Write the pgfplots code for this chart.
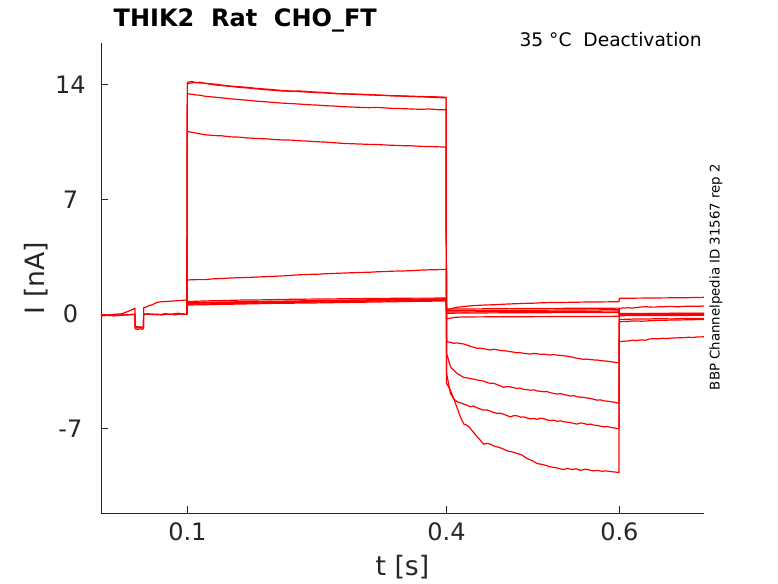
\documentclass[border=0pt]{standalone}
\usepackage{pgfplots}
\pgfplotsset{compat=1.18}
\usepackage{pgfplotstable}
\usepackage{fontspec}
\setmainfont{DejaVu Sans}
\definecolor{axgray}{RGB}{38,38,38}
\definecolor{tracered}{RGB}{255,0,0}

\pgfplotstableread{
t I
0 -0.08
0.005 -0.05
0.01 -0.1
0.015 -0.06
0.02 -0.1
0.025 -0.04
0.03 -0.07
0.035 -0.02
0.0393 0.0
0.0395 -0.9
0.042 -0.95
0.045 -0.9
0.048 -0.93
0.0492 -0.88
0.0494 0.02
0.055 -0.02
0.06 0.0
0.065 -0.05
0.07 -0.02
0.075 0.03
0.08 -0.03
0.085 0.02
0.09 0.05
0.095 -0.02
0.0995 0.0
}\preA

\pgfplotstableread{
t I
0 -0.12
0.005 -0.1
0.01 -0.06
0.015 -0.12
0.02 -0.05
0.025 -0.08
0.03 -0.03
0.035 -0.05
0.0393 -0.02
0.0395 -0.82
0.042 -0.85
0.045 -0.8
0.048 -0.86
0.0492 -0.84
0.0494 -0.02
0.055 0.02
0.06 -0.04
0.065 0.0
0.07 -0.06
0.075 -0.02
0.08 0.0
0.085 -0.05
0.09 -0.02
0.095 0.02
0.0995 -0.03
}\preB

\pgfplotstableread{
t I
0 -0.05
0.01 -0.04
0.02 0.0
0.025 0.02
0.028 0.1
0.031 0.15
0.034 0.22
0.037 0.3
0.0393 0.35
0.0395 -0.75
0.045 -0.8
0.0492 -0.78
0.0494 0.4
0.052 0.42
0.055 0.5
0.06 0.58
0.065 0.72
0.07 0.75
0.08 0.78
0.09 0.82
0.0995 0.86
0.1 0.76
0.12 0.8
0.14 0.82
0.16 0.85
0.18 0.86
0.2 0.88
0.22 0.9
0.24 0.91
0.26 0.92
0.28 0.93
0.3 0.94
0.32 0.95
0.34 0.96
0.36 0.97
0.38 0.97
0.3995 0.98
0.4 0.24
0.405 0.33
0.412 0.41
0.42 0.46
0.43 0.51
0.44 0.54
0.45 0.56
0.46 0.58
0.47 0.61
0.48 0.63
0.49 0.65
0.5 0.66
0.51 0.69
0.52 0.7
0.53 0.7
0.547 0.72
0.56 0.73
0.58 0.74
0.5995 0.75
0.6 0.96
0.62 0.97
0.64 0.98
0.66 0.99
0.68 1.0
0.698 1.02
}\trP

\pgfplotstableread{
t I
0.0995 0.0
0.1 14.15
0.105 14.2
0.11 14.12
0.115 14.16
0.12 14.08
0.13 14.05
0.14 13.98
0.15 13.92
0.16 13.88
0.17 13.84
0.18 13.78
0.19 13.74
0.20 13.7
0.21 13.64
0.22 13.62
0.23 13.58
0.24 13.55
0.25 13.52
0.26 13.5
0.27 13.46
0.28 13.44
0.29 13.42
0.30 13.40
0.31 13.38
0.32 13.36
0.33 13.35
0.34 13.32
0.35 13.3
0.36 13.28
0.37 13.27
0.38 13.24
0.39 13.22
0.3995 13.2
0.4 -4.24
0.4045 -4.65
0.4103 -5.45
0.416 -6.28
0.42 -6.72
0.424 -6.8
0.4277 -6.99
0.4315 -7.25
0.4355 -7.5
0.439 -7.7
0.443 -7.95
0.447 -7.9
0.4508 -7.95
0.4545 -8.05
0.4585 -8.11
0.464 -8.2
0.47 -8.35
0.476 -8.42
0.4817 -8.52
0.487 -8.6
0.493 -8.82
0.499 -8.95
0.505 -9.13
0.512 -9.2
0.52 -9.33
0.528 -9.4
0.5356 -9.5
0.54 -9.42
0.545 -9.5
0.55 -9.45
0.555 -9.55
0.56 -9.48
0.565 -9.52
0.57 -9.58
0.5742 -9.55
0.58 -9.6
0.585 -9.58
0.59 -9.62
0.5973 -9.66
0.5995 -9.68
0.6 -1.69
0.605 -1.66
0.61 -1.65
0.615 -1.6
0.62 -1.62
0.625 -1.58
0.63 -1.6
0.635 -1.52
0.64 -1.5
0.645 -1.52
0.65 -1.48
0.655 -1.5
0.66 -1.47
0.665 -1.46
0.67 -1.45
0.675 -1.44
0.68 -1.42
0.685 -1.43
0.69 -1.4
0.698 -1.39
}\trA

\pgfplotstableread{
t I
0.0995 0.02
0.1 14.05
0.105 14.12
0.11 14.15
0.115 14.1
0.12 14.1
0.13 14.0
0.14 13.95
0.15 13.9
0.16 13.84
0.17 13.8
0.18 13.75
0.19 13.7
0.20 13.66
0.21 13.62
0.22 13.6
0.23 13.62
0.24 13.58
0.25 13.55
0.26 13.52
0.27 13.48
0.28 13.45
0.29 13.44
0.30 13.42
0.31 13.4
0.32 13.38
0.33 13.34
0.34 13.33
0.35 13.32
0.36 13.3
0.37 13.28
0.38 13.27
0.39 13.26
0.3995 13.24
0.4 -3.6
0.4045 -4.85
0.4085 -5.2
0.4123 -5.36
0.416 -5.42
0.42 -5.5
0.424 -5.58
0.4277 -5.66
0.431 -5.62
0.435 -5.72
0.439 -5.8
0.443 -5.87
0.447 -5.85
0.45 -5.92
0.454 -6.0
0.4585 -6.07
0.462 -6.05
0.466 -6.12
0.47 -6.2
0.474 -6.28
0.478 -6.2
0.482 -6.22
0.486 -6.3
0.4894 -6.28
0.493 -6.35
0.497 -6.4
0.501 -6.38
0.505 -6.44
0.508 -6.36
0.512 -6.38
0.516 -6.46
0.520 -6.5
0.524 -6.48
0.528 -6.55
0.532 -6.52
0.5356 -6.58
0.539 -6.6
0.543 -6.62
0.547 -6.68
0.551 -6.72
0.555 -6.65
0.559 -6.68
0.563 -6.75
0.5665 -6.72
0.57 -6.78
0.574 -6.8
0.578 -6.85
0.582 -6.89
0.586 -6.87
0.59 -6.92
0.594 -6.95
0.5973 -6.99
0.5995 -7.0
0.6 -0.47
0.605 -0.46
0.61 -0.45
0.615 -0.42
0.62 -0.42
0.625 -0.44
0.63 -0.43
0.635 -0.41
0.64 -0.4
0.645 -0.39
0.65 -0.38
0.66 -0.37
0.67 -0.36
0.68 -0.35
0.69 -0.34
0.698 -0.33
}\trB

\pgfplotstableread{
t I
0.0995 -0.02
0.1 13.45
0.105 13.42
0.11 13.38
0.115 13.36
0.12 13.3
0.13 13.25
0.14 13.2
0.15 13.14
0.16 13.1
0.17 13.05
0.18 13.0
0.19 12.96
0.20 12.92
0.21 12.88
0.22 12.85
0.23 12.82
0.24 12.78
0.25 12.76
0.26 12.72
0.27 12.7
0.28 12.66
0.29 12.64
0.30 12.62
0.31 12.6
0.32 12.62
0.33 12.58
0.34 12.55
0.35 12.54
0.36 12.52
0.37 12.5
0.38 12.52
0.39 12.48
0.3995 12.47
0.4 -2.4
0.4045 -3.22
0.4085 -3.45
0.4123 -3.63
0.416 -3.75
0.42 -3.87
0.424 -3.9
0.428 -3.95
0.432 -3.98
0.4355 -4.03
0.439 -4.05
0.443 -4.1
0.447 -4.18
0.4508 -4.24
0.454 -4.22
0.458 -4.3
0.462 -4.38
0.4662 -4.48
0.47 -4.42
0.474 -4.45
0.478 -4.5
0.4817 -4.55
0.485 -4.52
0.489 -4.6
0.493 -4.62
0.497 -4.65
0.501 -4.63
0.505 -4.7
0.509 -4.72
0.5125 -4.75
0.516 -4.73
0.52 -4.8
0.524 -4.85
0.528 -4.89
0.532 -4.86
0.536 -4.92
0.54 -4.96
0.5433 -5.01
0.547 -4.98
0.551 -5.05
0.555 -5.08
0.5588 -5.09
0.562 -5.12
0.566 -5.15
0.57 -5.2
0.5742 -5.26
0.578 -5.24
0.582 -5.3
0.586 -5.32
0.59 -5.35
0.594 -5.38
0.5973 -5.42
0.5995 -5.45
0.6 -0.33
0.61 -0.32
0.62 -0.3
0.63 -0.31
0.64 -0.29
0.65 -0.28
0.66 -0.3
0.67 -0.28
0.68 -0.27
0.69 -0.27
0.698 -0.27
}\trC

\pgfplotstableread{
t I
0.0995 0.0
0.1 11.14
0.105 11.1
0.11 11.05
0.115 11.0
0.12 10.95
0.13 10.9
0.14 10.88
0.15 10.82
0.16 10.8
0.17 10.75
0.18 10.72
0.19 10.7
0.20 10.66
0.21 10.63
0.22 10.62
0.23 10.58
0.24 10.56
0.25 10.52
0.26 10.5
0.27 10.46
0.28 10.42
0.29 10.4
0.30 10.38
0.31 10.36
0.32 10.35
0.33 10.32
0.34 10.3
0.35 10.28
0.36 10.27
0.37 10.24
0.38 10.23
0.39 10.21
0.3995 10.19
0.4 -1.4
0.4005 -1.69
0.404 -1.72
0.4084 -1.79
0.412 -1.76
0.416 -1.8
0.42 -1.83
0.424 -1.9
0.428 -1.98
0.432 -2.04
0.4355 -2.1
0.439 -2.08
0.443 -2.12
0.447 -2.16
0.4508 -2.2
0.454 -2.15
0.458 -2.18
0.462 -2.22
0.4662 -2.24
0.47 -2.26
0.474 -2.3
0.478 -2.33
0.4817 -2.37
0.485 -2.35
0.489 -2.4
0.493 -2.42
0.497 -2.45
0.501 -2.4
0.505 -2.43
0.509 -2.46
0.5125 -2.45
0.516 -2.48
0.52 -2.5
0.524 -2.47
0.528 -2.51
0.532 -2.53
0.536 -2.55
0.54 -2.58
0.5433 -2.61
0.547 -2.65
0.551 -2.7
0.555 -2.74
0.5588 -2.77
0.562 -2.75
0.566 -2.78
0.57 -2.8
0.5742 -2.81
0.578 -2.84
0.582 -2.86
0.586 -2.88
0.5896 -2.91
0.594 -2.94
0.5973 -2.97
0.5995 -2.98
0.6 0.35
0.605 0.37
0.61 0.38
0.615 0.36
0.62 0.4
0.625 0.43
0.63 0.45
0.635 0.43
0.64 0.42
0.645 0.44
0.65 0.44
0.655 0.46
0.66 0.47
0.665 0.45
0.67 0.45
0.675 0.47
0.68 0.48
0.69 0.47
0.698 0.49
}\trD

\pgfplotstableread{
t I
0.0995 -0.03
0.1 2.08
0.11 2.1
0.12 2.1
0.13 2.15
0.14 2.17
0.15 2.2
0.16 2.22
0.17 2.23
0.18 2.26
0.19 2.28
0.20 2.3
0.21 2.33
0.22 2.36
0.23 2.4
0.24 2.42
0.25 2.43
0.26 2.46
0.27 2.48
0.28 2.5
0.29 2.52
0.30 2.54
0.31 2.55
0.32 2.58
0.33 2.6
0.34 2.62
0.35 2.63
0.36 2.65
0.37 2.68
0.38 2.7
0.39 2.71
0.3995 2.73
0.4 -0.3
0.405 -0.25
0.41 -0.2
0.42 -0.18
0.45 -0.17
0.5 -0.16
0.55 -0.15
0.5995 -0.14
0.6 0.02
0.65 0.03
0.698 0.04
}\trE

\pgfplotstableread{
t I
0.0995 0.0
0.1 0.6
0.15 0.64
0.2 0.7
0.25 0.73
0.3 0.78
0.35 0.81
0.3995 0.85
0.4 0.3
0.45 0.32
0.5 0.34
0.55 0.35
0.5995 0.36
0.6 0.0
0.65 0.01
0.698 0.02
}\trFa

\pgfplotstableread{
t I
0.0995 -0.02
0.1 0.65
0.15 0.7
0.2 0.74
0.25 0.78
0.3 0.82
0.35 0.86
0.3995 0.9
0.4 0.2
0.45 0.22
0.5 0.23
0.55 0.25
0.5995 0.26
0.6 -0.05
0.65 -0.04
0.698 -0.04
}\trFb

\pgfplotstableread{
t I
0.0995 0.01
0.1 0.55
0.15 0.6
0.2 0.65
0.25 0.68
0.3 0.72
0.35 0.76
0.3995 0.8
0.4 0.05
0.45 0.07
0.5 0.08
0.55 0.09
0.5995 0.1
0.6 0.03
0.65 0.04
0.698 0.05
}\trFc

\pgfplotstableread{
t I
0.0995 0.0
0.1 0.7
0.15 0.74
0.2 0.78
0.25 0.82
0.3 0.86
0.35 0.9
0.3995 0.93
0.4 0.12
0.45 0.14
0.5 0.15
0.55 0.17
0.5995 0.18
0.6 -0.1
0.65 -0.09
0.698 -0.08
}\trFd

\begin{document}
\begin{tikzpicture}
\useasboundingbox (-75.75pt,-52.5pt) rectangle (507.75pt,384.75pt);
\begin{axis}[
  scale only axis,
  width=452.25pt, height=352.5pt,
  xmin=0, xmax=0.698,
  ymin=-12.15, ymax=16.55,
  axis lines=left,
  axis line style={-, axgray, line width=0.6pt},
  tick style={axgray, line width=0.6pt},
  tick align=inside,
  major tick length=5pt,
  xtick={0.1,0.4,0.6},
  ytick={-7,0,7,14},
  xticklabels={0.1,0.4,0.6},
  yticklabels={-7,0,7,14},
  ticklabel style={font=\fontsize{18}{20}\selectfont, text=axgray},
  yticklabel style={anchor=center, xshift=-22.9pt},
  xticklabel style={anchor=north, yshift=-3.5pt},
  xlabel={t [s]},
  ylabel={I [nA]},
  label style={font=\fontsize{20}{22}\selectfont, text=axgray},
  xlabel style={at={(axis description cs:0.5,0)}, anchor=center, yshift=-40.5pt},
  ylabel style={at={(axis description cs:-0.1078,0.5)}, anchor=center},
  tr/.style={draw=tracered, mark=none, line width=0.9pt, line join=round},
  clip=true,
]
\addplot[tr] table[x=t,y=I] {\preA};
\addplot[tr] table[x=t,y=I] {\preB};
\addplot[tr] table[x=t,y=I] {\trP};
\addplot[tr] table[x=t,y=I] {\trFa};
\addplot[tr] table[x=t,y=I] {\trFb};
\addplot[tr] table[x=t,y=I] {\trFc};
\addplot[tr] table[x=t,y=I] {\trFd};
\addplot[tr] table[x=t,y=I] {\trE};
\addplot[tr] table[x=t,y=I] {\trD};
\addplot[tr] table[x=t,y=I] {\trC};
\addplot[tr] table[x=t,y=I] {\trB};
\addplot[tr] table[x=t,y=I] {\trA};
\end{axis}
\node[anchor=base west, font=\bfseries\fontsize{18}{20}\selectfont] at (6pt,364.5pt) {THIK2\ \ Rat\ \ CHO\_FT};
\node[anchor=base east, font=\fontsize{14}{16}\selectfont, text=black, inner sep=0pt] at (450.75pt,349.5pt) {35 °C\ \ Deactivation};
\node[rotate=90, anchor=center, font=\fontsize{10}{12}\selectfont, text=black, inner sep=0pt] at (461.25pt,177pt) {BBP Channelpedia ID 31567 rep 2};
\end{tikzpicture}
\end{document}
